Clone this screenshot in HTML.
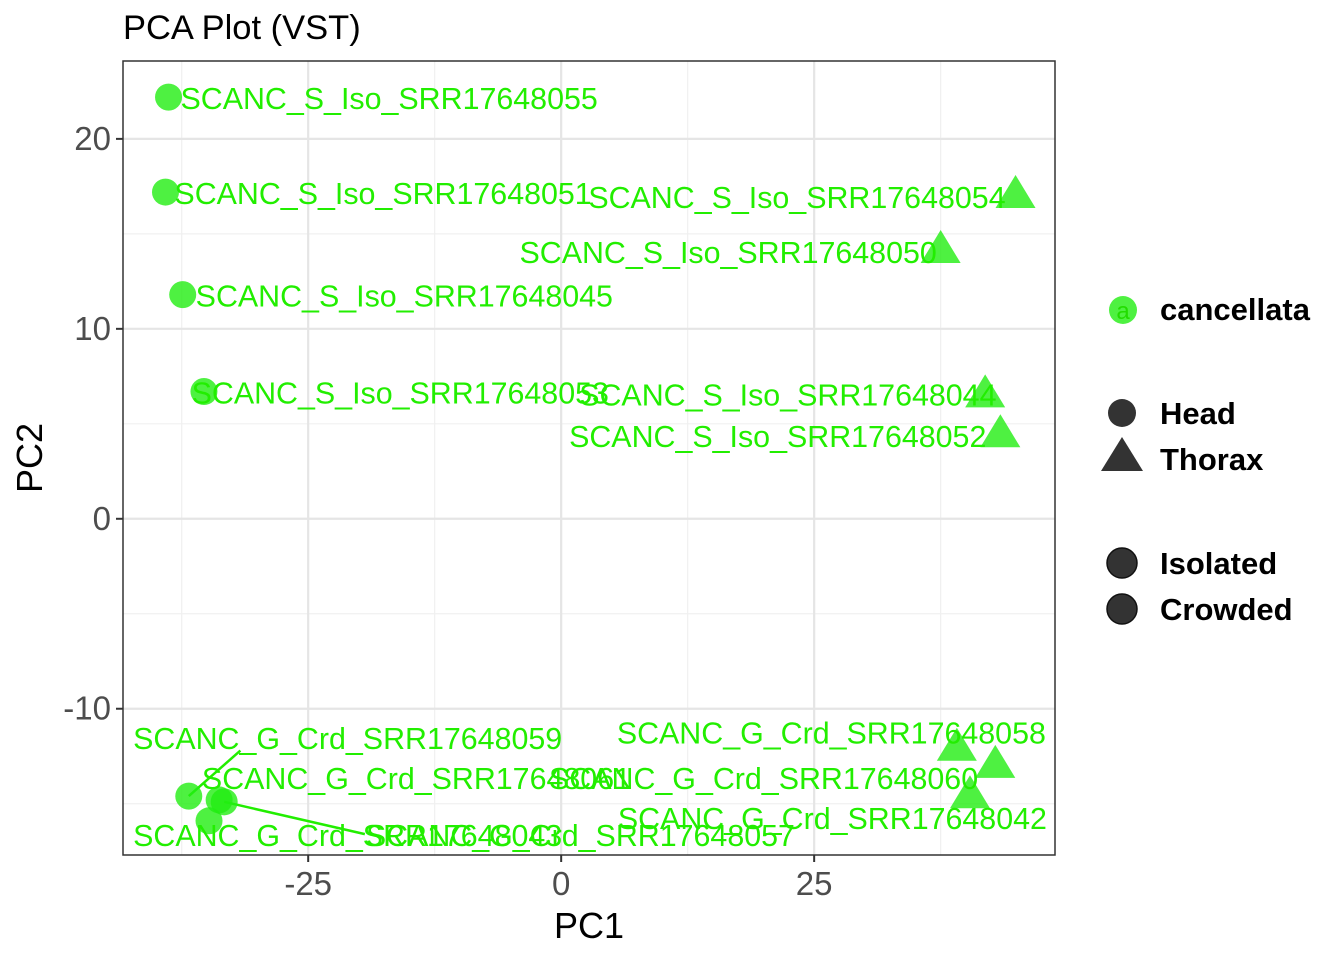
<!DOCTYPE html>
<html><head><meta charset="utf-8"><style>
body{margin:0;background:#fff}
svg{font-family:"Liberation Sans",Arial,sans-serif}
</style></head><body>
<svg id="chart" width="1344" height="960">
<text x="123" y="39" font-size="34.5" fill="#000">PCA Plot (VST)</text>
<rect x="123" y="61" width="932" height="794" fill="#fff"/>
<g id="grid"></g>
<g id="marks"></g>
<rect x="123" y="61" width="932" height="794" fill="none" stroke="#333" stroke-width="1.5"/>
<g id="axes"></g>
<text x="589" y="938" font-size="36" text-anchor="middle" fill="#000">PC1</text>
<text transform="translate(42,458) rotate(-90)" font-size="36" text-anchor="middle" fill="#000">PC2</text>
<g font-weight="bold" font-size="31" fill="#000">
<g><circle cx="1123" cy="310" r="14" fill="#22ee11" fill-opacity="0.8"/><text x="1123" y="319" font-size="24" font-weight="normal" text-anchor="middle" fill="#22dd00">a</text><text x="1160" y="320">cancellata</text></g>
<g><circle cx="1122" cy="413" r="14" fill="#333"/><text x="1160" y="424">Head</text></g>
<g><polygon points="1122,437 1143,471 1101,471" fill="#333"/><text x="1160" y="470">Thorax</text></g>
<g><circle cx="1122" cy="563" r="15" fill="#333" stroke="#111" stroke-width="1.5"/><text x="1160" y="574">Isolated</text></g>
<g><circle cx="1122" cy="609" r="15" fill="#333" stroke="#111" stroke-width="1.5"/><text x="1160" y="620">Crowded</text></g>
</g>
</svg>
<script>
const sampleNames=["SCANC_S_Iso_SRR17648055","SCANC_S_Iso_SRR17648051","SCANC_S_Iso_SRR17648054","SCANC_S_Iso_SRR17648050","SCANC_S_Iso_SRR17648045","SCANC_S_Iso_SRR17648053","SCANC_S_Iso_SRR17648044","SCANC_S_Iso_SRR17648052","SCANC_G_Crd_SRR17648059","SCANC_G_Crd_SRR17648058","SCANC_G_Crd_SRR17648061","SCANC_G_Crd_SRR17648060","SCANC_G_Crd_SRR17648042","SCANC_G_Crd_SRR17648043","SCANC_G_Crd_SRR17648057"];
const pc1=[-38.8,-39.1,44.9,37.5,-37.4,-35.3,41.9,43.4,-36.8,39.1,-33.8,42.9,40.4,-34.8,-33.3];
const pc2=[22.2,17.2,17.1,14.2,11.8,6.7,6.6,4.5,-14.6,-12.0,-14.8,-12.9,-14.5,-15.9,-14.9];
const tissue=["Head","Head","Thorax","Thorax","Head","Head","Thorax","Thorax","Head","Thorax","Head","Thorax","Thorax","Head","Head"];
const labelX=[-17.0,-17.6,23.3,16.5,-15.5,-15.9,22.4,21.4,-21.1,26.7,-14.3,20.0,26.8,-21.1,1.9];
const labelY=[22.1,17.1,16.9,14.0,11.7,6.6,6.5,4.3,-11.6,-11.3,-13.7,-13.7,-15.8,-16.7,-16.7];
const segIdx=[8,14];
const segEndX=[-31.7,-19.4];
const segEndY=[-12.2,-16.6];
const xTicks=[-25,0,25];
const yTicks=[-10,0,10,20];
const xMinor=[-37.5,-12.5,12.5,37.5];
const yMinor=[-15,-5,5,15];
const NS="http://www.w3.org/2000/svg";
const X0=123,X1=1055,Y0=61,Y1=855,xmin=-43.3,xmax=48.8,ymin=-17.7,ymax=24.1;
const sx=v=>X0+(v-xmin)/(xmax-xmin)*(X1-X0);
const sy=v=>Y1-(v-ymin)/(ymax-ymin)*(Y1-Y0);
function mk(tag,attrs,parent){const e=document.createElementNS(NS,tag);for(const k in attrs)e.setAttribute(k,attrs[k]);parent.appendChild(e);return e;}
const grid=document.getElementById('grid'),axes=document.getElementById('axes'),marks=document.getElementById('marks');
xMinor.forEach(v=>{const l=mk('line',{x1:sx(v),x2:sx(v),y1:Y0,y2:Y1,stroke:'#f0f0f0','stroke-width':1.2},grid);

});
yMinor.forEach(v=>{const l=mk('line',{x1:X0,x2:X1,y1:sy(v),y2:sy(v),stroke:'#f0f0f0','stroke-width':1.2},grid);

});
xTicks.forEach(v=>{const l=mk('line',{x1:sx(v),x2:sx(v),y1:Y0,y2:Y1,stroke:'#e5e5e5','stroke-width':2.2},grid);


const t=mk('line',{x1:sx(v),x2:sx(v),y1:Y1,y2:Y1+7,stroke:'#333','stroke-width':2},axes);


const tx=mk('text',{x:sx(v),y:Y1+40,'font-size':33,fill:'#4d4d4d','text-anchor':'middle'},axes);tx.textContent=v;

});
yTicks.forEach(v=>{const l=mk('line',{x1:X0,x2:X1,y1:sy(v),y2:sy(v),stroke:'#e5e5e5','stroke-width':2.2},grid);


const t=mk('line',{x1:X0-7,x2:X0,y1:sy(v),y2:sy(v),stroke:'#333','stroke-width':2},axes);


const tx=mk('text',{x:X0-12,y:sy(v)+11,'font-size':33,fill:'#4d4d4d','text-anchor':'end'},axes);tx.textContent=v;

});
segIdx.forEach((i,k)=>{const l=mk('line',{x1:sx(pc1[i]),y1:sy(pc2[i]),x2:sx(segEndX[k]),y2:sy(segEndY[k]),stroke:'#22ee00','stroke-width':2.5},marks);

});
pc1.forEach((v,i)=>{const cx=sx(v),cy=sy(pc2[i]);let e;
if(tissue[i]==='Head'){e=mk('circle',{cx:cx,cy:cy,r:13.5,fill:'#22ee11','fill-opacity':0.8},marks);}
else{e=mk('polygon',{points:`${cx},${cy-19} ${cx+20},${cy+14} ${cx-20},${cy+14}`,fill:'#22ee11','fill-opacity':0.8},marks);}

});
sampleNames.forEach((n,i)=>{const t=mk('text',{x:sx(labelX[i]),y:sy(labelY[i])+10,'font-size':30.4,fill:'#22ee00','text-anchor':'middle'},marks);t.textContent=n;

});
</script>
</body></html>
